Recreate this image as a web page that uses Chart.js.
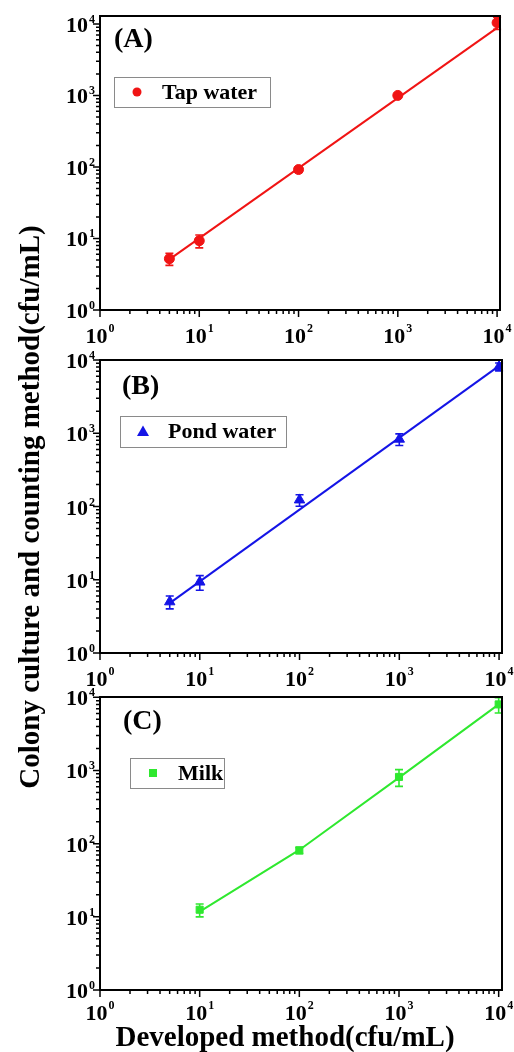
<!DOCTYPE html>
<html>
<head>
<meta charset="utf-8">
<script src="https://cdn.jsdelivr.net/npm/chart.js@4.4.1/dist/chart.umd.min.js"></script>
<style>
  body { margin: 0; background: #fff; }
  #wrap { position: relative; width: 514px; height: 1052px; overflow: hidden; }
  #wrap canvas { position: absolute; left: 0; }
  .ytitle {
    position: absolute; left: -320px; top: 490px; width: 700px; height: 34px;
    line-height: 34px; text-align: center; transform: rotate(-90deg);
    font: bold 29px "Liberation Serif", "Times New Roman", serif; color: #000;
  }
  .xtitle {
    position: absolute; left: 0; top: 1020px; width: 570px; height: 34px;
    line-height: 34px; text-align: center;
    font: bold 29px "Liberation Serif", "Times New Roman", serif; color: #000;
  }
</style>
</head>
<body>
<div id="wrap">
  <canvas id="chartA" width="514" height="350" style="top:0px"></canvas>
  <canvas id="chartB" width="514" height="350" style="top:340px"></canvas>
  <canvas id="chartC" width="514" height="372" style="top:680px"></canvas>
  <div class="ytitle">Colony culture and counting method(cfu/mL)</div>
  <div class="xtitle">Developed method(cfu/mL)</div>
</div>
<script>
// values
const tickValues = [1, 10, 100, 1000, 10000];
const tickExponents = ['0', '1', '2', '3', '4'];

const tapX = [5, 10, 100, 1000, 10000];
const tapY = [5.2, 9.3, 92, 1000, 10400];
const tapErr = [1.0, 1.9, 8, 70, 2000];
const tapFitX = [5, 10000];
const tapFitY = [5.1, 8800];

const pondX = [5, 10, 100, 1000, 10000];
const pondY = [5.0, 9.3, 123, 830, 8100];
const pondErr = [1.0, 2.1, 22, 150, 1000];
const pondFitX = [5, 10000];
const pondFitY = [4.8, 8300];

const milkX = [10, 100, 1000, 10000];
const milkY = [12.5, 81, 817, 8000];
const milkErr = [2.5, 8, 210, 1900];
const milkFitX = [10, 100, 1000, 10000];
const milkFitY = [11.8, 82, 800, 8000];

const FONT = '"Liberation Serif", "Times New Roman", serif';

function pts(xs, ys) {
  return xs.map((x, i) => ({ x: x, y: ys[i] }));
}

// draws frame, ticks, superscript labels, error bars, panel letter and legend
const panelDecor = {
  id: 'panelDecor',
  afterDatasetsDraw(chart, args, opts) {
    const ctx = chart.ctx;
    const a = chart.chartArea;
    const xs = chart.scales.x, ys = chart.scales.y;
    ctx.save();

    // error bars
    const ds = chart.data.datasets[0];
    ctx.strokeStyle = opts.color;
    ctx.lineWidth = 1.6;
    ds.data.forEach((p, i) => {
      const e = opts.err[i];
      const px = xs.getPixelForValue(p.x);
      const yt = ys.getPixelForValue(p.y + e);
      const yb = ys.getPixelForValue(p.y - e);
      ctx.beginPath();
      ctx.moveTo(px, yt); ctx.lineTo(px, yb);
      ctx.moveTo(px - 4, yt); ctx.lineTo(px + 4, yt);
      ctx.moveTo(px - 4, yb); ctx.lineTo(px + 4, yb);
      ctx.stroke();
    });

    // frame
    ctx.strokeStyle = '#000';
    ctx.lineWidth = 2;
    ctx.strokeRect(a.left, a.top, a.right - a.left, a.bottom - a.top);

    // ticks
    ctx.lineWidth = 1.5;
    ctx.beginPath();
    for (let d = 0; d < 4; d++) {
      for (let m = 1; m <= 10; m++) {
        const v = tickValues[d] * m;
        const major = m === 1 || m === 10;
        const len = major ? 7 : 4;
        const px = xs.getPixelForValue(v);
        const py = ys.getPixelForValue(v);
        if (py >= a.top - 0.5) { ctx.moveTo(a.left, py); ctx.lineTo(a.left - len, py); }
        if (px <= a.right + 0.5) { ctx.moveTo(px, a.bottom); ctx.lineTo(px, a.bottom + len); }
      }
    }
    ctx.stroke();

    // tick labels 10^n
    ctx.fillStyle = '#000';
    const off = opts.labelOffset;
    tickValues.forEach((v, i) => {
      ctx.font = 'bold 22px ' + FONT;
      const w10 = ctx.measureText('10').width;
      ctx.font = 'bold 12px ' + FONT;
      const we = ctx.measureText(tickExponents[i]).width;
      const px = xs.getPixelForValue(v);
      const py = ys.getPixelForValue(v);
      // x axis
      const lx = px - (w10 + we + 1) / 2;
      ctx.textAlign = 'left'; ctx.textBaseline = 'alphabetic';
      ctx.font = 'bold 22px ' + FONT;
      ctx.fillText('10', lx, a.bottom + off);
      ctx.font = 'bold 12px ' + FONT;
      ctx.fillText(tickExponents[i], lx + w10 + 1, a.bottom + off - 11);
      // y axis
      const rx = a.left - 5;
      ctx.font = 'bold 22px ' + FONT;
      ctx.fillText('10', rx - we - 1 - w10, py + 8);
      ctx.font = 'bold 12px ' + FONT;
      ctx.fillText(tickExponents[i], rx - we, py - 1);
    });

    // panel letter
    ctx.font = 'bold 28px ' + FONT;
    ctx.textBaseline = 'middle';
    ctx.fillText(opts.letter, opts.letterX, opts.letterY);

    // legend box
    const L = opts.legend;
    ctx.fillStyle = '#fff';
    ctx.fillRect(L.x, L.y, L.w, L.h);
    ctx.strokeStyle = '#8a8a8a';
    ctx.lineWidth = 1;
    ctx.strokeRect(L.x + 0.5, L.y + 0.5, L.w, L.h);
    const mx = L.x + 23, my = L.y + L.h / 2;
    ctx.fillStyle = opts.color;
    ctx.beginPath();
    if (opts.marker === 'circle') {
      ctx.arc(mx, my, 4.5, 0, Math.PI * 2);
    } else if (opts.marker === 'triangle') {
      ctx.moveTo(mx, my - 6); ctx.lineTo(mx + 6, my + 4.5); ctx.lineTo(mx - 6, my + 4.5); ctx.closePath();
    } else {
      ctx.rect(mx - 4, my - 4, 8, 8);
    }
    ctx.fill();
    ctx.fillStyle = '#000';
    ctx.font = 'bold 22px ' + FONT;
    ctx.textBaseline = 'middle';
    ctx.fillText(opts.label, L.x + 48, my + 1);

    ctx.restore();
  }
};

function makePanel(id, cfg) {
  return new Chart(document.getElementById(id), {
    type: 'scatter',
    data: {
      datasets: [
        {
          label: cfg.label,
          data: pts(cfg.x, cfg.y),
          backgroundColor: cfg.color,
          borderColor: cfg.color,
          pointStyle: cfg.pointStyle,
          pointRadius: cfg.radius,
          showLine: false
        },
        {
          label: cfg.label + ' fit',
          data: pts(cfg.fitX, cfg.fitY),
          borderColor: cfg.color,
          borderWidth: 2,
          pointRadius: 0,
          showLine: true,
          fill: false
        }
      ]
    },
    options: {
      responsive: false,
      animation: false,
      layout: { padding: cfg.padding },
      plugins: {
        legend: { display: false },
        tooltip: { enabled: false },
        panelDecor: {
          color: cfg.color, err: cfg.err, letter: cfg.letter,
          letterX: cfg.letterX, letterY: cfg.letterY, labelOffset: cfg.labelOffset,
          legend: cfg.legendBox, marker: cfg.marker, label: cfg.label
        }
      },
      scales: {
        x: { type: 'logarithmic', display: false, min: 1, max: cfg.xMax },
        y: { type: 'logarithmic', display: false, min: 1, max: cfg.yMax }
      }
    },
    plugins: [panelDecor]
  });
}

makePanel('chartA', {
  label: 'Tap water', color: '#f01414', pointStyle: 'circle', radius: 5, marker: 'circle',
  x: tapX, y: tapY, err: tapErr, fitX: tapFitX, fitY: tapFitY,
  padding: { left: 100, right: 14, top: 16, bottom: 40 },
  xMax: 10700, yMax: 12900, labelOffset: 33,
  letter: '(A)', letterX: 114, letterY: 40,
  legendBox: { x: 114, y: 77, w: 156, h: 30 }
});

makePanel('chartB', {
  label: 'Pond water', color: '#1414e6', pointStyle: 'triangle', radius: 6, marker: 'triangle',
  x: pondX, y: pondY, err: pondErr, fitX: pondFitX, fitY: pondFitY,
  padding: { left: 100, right: 12, top: 20, bottom: 37 },
  xMax: 10700, yMax: 10000, labelOffset: 33,
  letter: '(B)', letterX: 122, letterY: 47,
  legendBox: { x: 120, y: 76, w: 166, h: 31 }
});

makePanel('chartC', {
  label: 'Milk', color: '#2fe82f', pointStyle: 'rect', radius: 5, marker: 'rect',
  x: milkX, y: milkY, err: milkErr, fitX: milkFitX, fitY: milkFitY,
  padding: { left: 100, right: 12, top: 17, bottom: 62 },
  xMax: 10800, yMax: 10100, labelOffset: 30,
  letter: '(C)', letterX: 123, letterY: 42,
  legendBox: { x: 130, y: 78, w: 94, h: 30 }
});
</script>
</body>
</html>
